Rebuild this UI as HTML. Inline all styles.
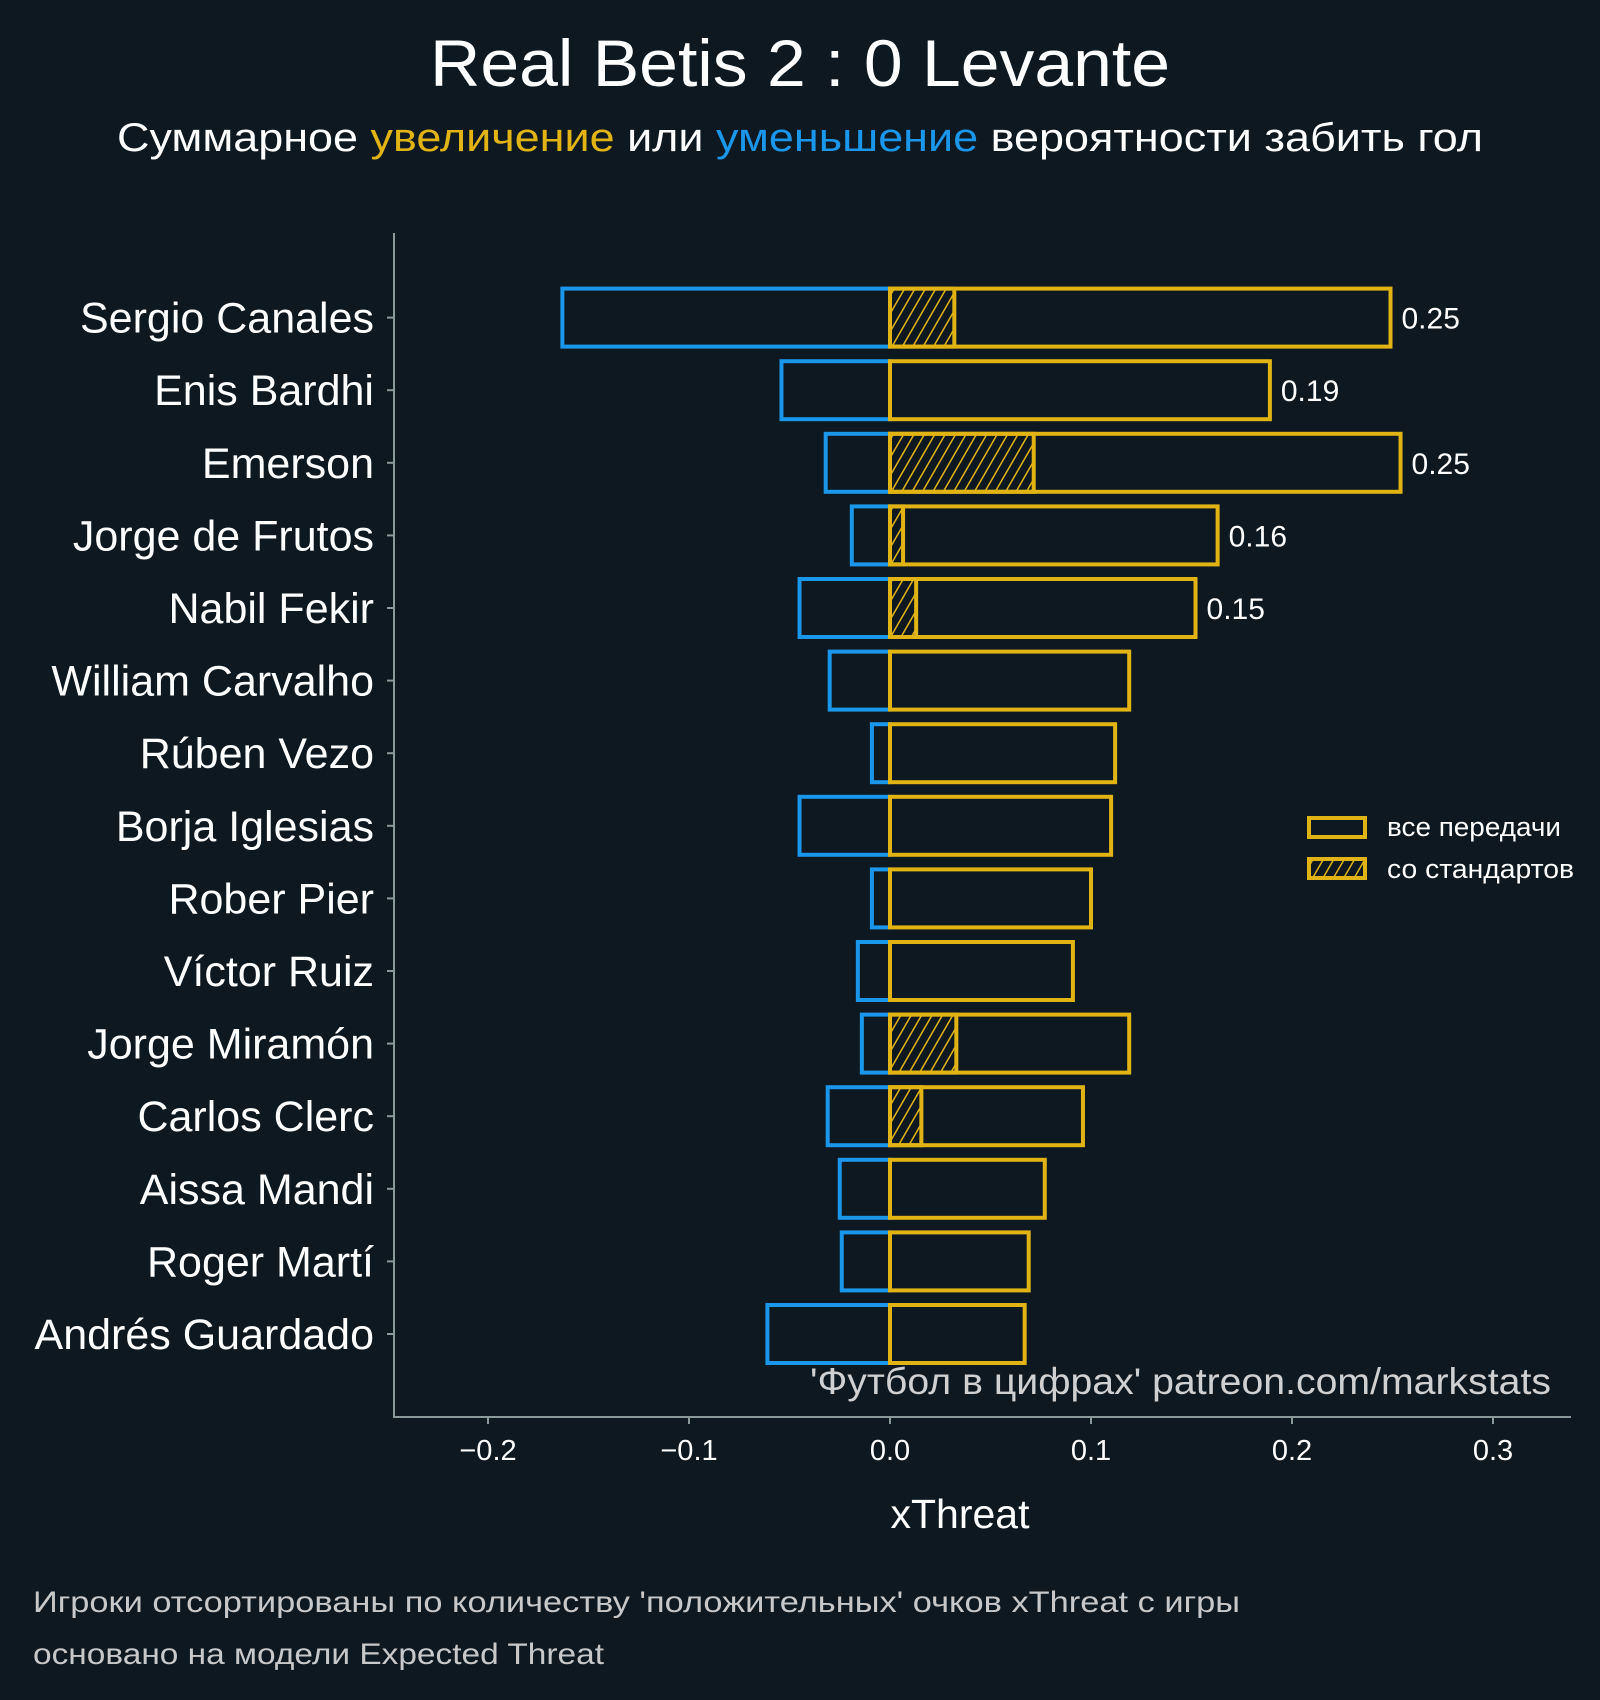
<!DOCTYPE html>
<html><head><meta charset="utf-8"><style>
body{margin:0;background:#0e1821;}
svg{display:block;font-family:"Liberation Sans",sans-serif;}
</style></head><body>
<svg id="chart" width="1600" height="1700" viewBox="0 0 1600 1700" xmlns="http://www.w3.org/2000/svg">
<defs>
<pattern id="hatch" patternUnits="userSpaceOnUse" width="9" height="9" patternTransform="rotate(30)">
<rect width="9" height="9" fill="#0e1821"/>
<line x1="0" y1="0" x2="0" y2="9" stroke="#e1b414" stroke-width="3"/>
</pattern>
</defs>
<rect width="1600" height="1700" fill="#0e1821"/>
<text x="800" y="86" text-anchor="middle" font-size="66" fill="#ffffff" textLength="740" lengthAdjust="spacingAndGlyphs">Real Betis 2 : 0 Levante</text>
<text x="800" y="151" text-anchor="middle" font-size="40" fill="#ffffff" textLength="1366" lengthAdjust="spacingAndGlyphs">Суммарное <tspan fill="#e1b414">увеличение</tspan> или <tspan fill="#1a96eb">уменьшение</tspan> вероятности забить гол</text>
<line x1="394" y1="233" x2="394" y2="1417" stroke="#8a9a9a" stroke-width="2"/>
<line x1="393" y1="1417" x2="1571" y2="1417" stroke="#8a9a9a" stroke-width="2"/>
<g id="bars"></g>
<g id="axes"></g>
<text x="1551" y="1394" text-anchor="end" font-size="37" fill="#d0d0d0" textLength="741" lengthAdjust="spacingAndGlyphs">'Футбол в цифрах' patreon.com/markstats</text>
<text x="960" y="1528" text-anchor="middle" font-size="41" fill="#ffffff">xThreat</text>
<rect x="1309" y="818" width="56" height="19" fill="none" stroke="#e1b414" stroke-width="4"/>
<text x="1387" y="836" font-size="27" fill="#ffffff" textLength="174" lengthAdjust="spacingAndGlyphs">все передачи</text>
<rect x="1309" y="859" width="56" height="19" fill="url(#hatch)" stroke="#e1b414" stroke-width="4"/>
<text x="1387" y="878" font-size="27" fill="#ffffff" textLength="187" lengthAdjust="spacingAndGlyphs">со стандартов</text>
<text x="33" y="1612" font-size="30" fill="#c8c8c8" textLength="1207" lengthAdjust="spacingAndGlyphs">Игроки отсортированы по количеству 'положительных' очков xThreat с игры</text>
<text x="33" y="1664" font-size="30" fill="#c8c8c8" textLength="571" lengthAdjust="spacingAndGlyphs">основано на модели Expected Threat</text>
</svg>
<script>
const players = ["Sergio Canales","Enis Bardhi","Emerson","Jorge de Frutos","Nabil Fekir","William Carvalho","Rúben Vezo","Borja Iglesias","Rober Pier","Víctor Ruiz","Jorge Miramón","Carlos Clerc","Aissa Mandi","Roger Martí","Andrés Guardado"];
const negative = [-0.163,-0.054,-0.032,-0.019,-0.045,-0.030,-0.009,-0.045,-0.009,-0.016,-0.014,-0.031,-0.025,-0.024,-0.061];
const positive = [0.249,0.189,0.254,0.163,0.152,0.119,0.112,0.110,0.100,0.091,0.119,0.096,0.077,0.069,0.067];
const setPieces = [0.032,0,0.0715,0.0065,0.013,0,0,0,0,0,0.033,0.0156,0,0,0];
const valueLabels = ["0.25","0.19","0.25","0.16","0.15"];
const xTicks = [-0.2,-0.1,0.0,0.1,0.2,0.3];
const xTickLabels = ["−0.2","−0.1","0.0","0.1","0.2","0.3"];

const NS="http://www.w3.org/2000/svg";
function x(v){return 890+v*2010;}
function yc(i){return 317.6+i*72.6;}
const BH=58;
const bars=document.getElementById('bars'), axes=document.getElementById('axes');
function mk(tag,attrs,parent){const e=document.createElementNS(NS,tag);for(const k in attrs)e.setAttribute(k,attrs[k]);parent.appendChild(e);return e;}
players.forEach((p,i)=>{
  const y=yc(i)-BH/2;
  const nb=mk('rect',{x:x(negative[i]),y:y,width:x(0)-x(negative[i]),height:BH,fill:'none',stroke:'#1a96eb','stroke-width':4},bars);
  
  
  if(setPieces[i]>0){
    const hb=mk('rect',{x:x(0),y:y,width:x(setPieces[i])-x(0),height:BH,fill:'url(#hatch)',stroke:'#e1b414','stroke-width':4},bars);
    
    
  }
  const pb=mk('rect',{x:x(0),y:y,width:x(positive[i])-x(0),height:BH,fill:'none',stroke:'#e1b414','stroke-width':4},bars);
  
  
  if(i<valueLabels.length){
    const t=mk('text',{x:x(positive[i])+11,y:yc(i)+11,'font-size':30,fill:'#ffffff'},bars);
    t.textContent=valueLabels[i];
    
    
  }
  const tk=mk('line',{x1:387,x2:394,y1:yc(i),y2:yc(i),stroke:'#8a9a9a','stroke-width':2},axes);
  
  
  const lb=mk('text',{x:374,y:yc(i)+15,'text-anchor':'end','font-size':43,fill:'#ffffff'},axes);
  lb.textContent=p;
  
  
});
xTicks.forEach((v,i)=>{
  const tk=mk('line',{x1:x(v),x2:x(v),y1:1417,y2:1424,stroke:'#8a9a9a','stroke-width':2},axes);
  
  
  const t=mk('text',{x:x(v),y:1460,'text-anchor':'middle','font-size':29,fill:'#ffffff'},axes);
  t.textContent=xTickLabels[i];
  
  
});
</script>
</body></html>
